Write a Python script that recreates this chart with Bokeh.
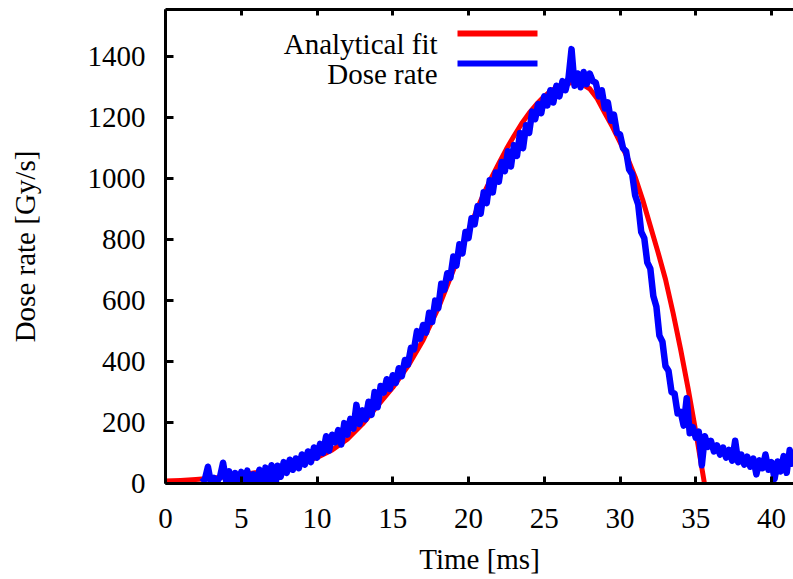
import numpy as np
from bokeh.plotting import figure
from bokeh.models import (Range1d, LinearAxis, FixedTicker, Label, BoxAnnotation,
                          CustomLabelingPolicy)
from bokeh.embed import file_html
from bokeh.resources import INLINE

# ---- data ----
x_ticks = [0, 5, 10, 15, 20, 25, 30, 35, 40]
y_ticks = [0, 200, 400, 600, 800, 1000, 1200, 1400]

fit_time = [0, 1, 2, 3, 4, 5, 6, 7, 8, 9, 10, 11, 12, 13, 14, 15, 16, 17, 18, 19,
            19.5, 20, 20.5, 21, 21.5, 22, 22.5, 23, 23.5, 24, 24.5, 25, 25.5, 26, 26.5,
            27, 27.5, 28, 28.5, 29, 29.5, 30, 30.5, 31, 31.5, 32, 32.5, 33, 33.5, 34,
            34.5, 35, 35.5, 36]
fit_dose = [8, 10, 13, 17, 22, 28, 36, 46, 58, 70, 85, 110, 145, 195, 255, 315, 385, 470, 575, 700,
            765, 830, 892, 950, 1002, 1050, 1097, 1140, 1180, 1215, 1245, 1270, 1290, 1303, 1312,
            1316, 1310, 1295, 1262, 1215, 1170, 1120, 1067, 1005, 930, 845, 760, 670, 560, 440,
            310, 170, 22, -130]

dose_t0 = 2.4
dose_dt = 0.2
dose_rate = [
    4, 14, 55, 2, 18, 6, 22, 68, 8, 40,
    5, 34, -8, 38, 10, 42, -25, 30, 4, 45,
    -15, 52, 10, 60, -35, 58, 22, 70, 35, 78,
    45, 82, 50, 95, 62, 105, 70, 118, 85, 130,
    100, 155, 108, 160, 135, 175, 128, 198, 160, 212,
    180, 258, 195, 240, 210, 268, 225, 300, 250, 320,
    298, 342, 310, 355, 330, 378, 352, 405, 390, 445,
    440, 500, 475, 520, 495, 560, 530, 600, 575, 655,
    635, 690, 675, 745, 715, 785, 755, 825, 805, 870,
    850, 910, 885, 955, 920, 995, 955, 1020, 990, 1055,
    1025, 1090, 1040, 1110, 1075, 1150, 1100, 1175, 1150, 1220,
    1195, 1245, 1215, 1270, 1240, 1290, 1250, 1305, 1270, 1320,
    1290, 1330, 1425, 1305, 1345, 1300, 1350, 1310, 1345, 1320,
    1315, 1270, 1290, 1230, 1250, 1190, 1210, 1150, 1145, 1100,
    1090, 1030, 1015, 945, 915, 825, 805, 725, 705, 615,
    580, 485, 465, 385, 370, 300, 295, 230, 235, 190,
    280, 165, 185, 150, 170, 60, 155, 120, 140, 105,
    125, 95, 118, 85, 110, 75, 140, 70, 95, 62,
    88, 55, 82, 30, 76, 50, 95, 45, 70, 15,
    72, 40, 90, 35, 110, 55,
]
dose_time = [round(dose_t0 + dose_dt * i, 2) for i in range(len(dose_rate))]

series_names = ["Analytical fit", "Dose rate"]
series_colors = ["#ff0000", "#0000ff"]

FONT = "Liberation Serif"
FS = "29px"

p = figure(width=793, height=579,
           x_range=Range1d(0, 41.45), y_range=Range1d(0, 1555),
           output_backend="svg", toolbar_location=None,
           min_border_left=165, min_border_right=0, min_border_top=9, min_border_bottom=96)
p.outline_line_color = None
p.grid.visible = False
p.background_fill_color = "white"
p.border_fill_color = "white"

p.line(fit_time, fit_dose, line_color=series_colors[0], line_width=5, line_join="round")
p.line(dose_time, dose_rate, line_color=series_colors[1], line_width=6.5, line_join="round")


def style_axis(ax, ticks, tick_len):
    ax.ticker = FixedTicker(ticks=ticks)
    ax.axis_line_width = 3
    ax.axis_line_color = "black"
    ax.major_tick_line_width = 3
    ax.major_tick_in = tick_len
    ax.major_tick_out = 0
    ax.minor_tick_line_color = None
    ax.major_label_text_font = FONT
    ax.major_label_text_font_size = FS
    ax.major_label_text_color = "black"
    ax.axis_label_text_font = FONT
    ax.axis_label_text_font_size = FS
    ax.axis_label_text_font_style = "normal"
    ax.axis_label_text_color = "black"


p.xaxis.axis_label = "Time [ms]"
style_axis(p.xaxis[0], x_ticks, 7)
p.xaxis.major_label_standoff = 25
p.xaxis.axis_label_standoff = 12

p.yaxis.axis_label = "Dose rate [Gy/s]"
style_axis(p.yaxis[0], y_ticks, 8)
p.yaxis.major_label_standoff = 20
p.yaxis.axis_label_standoff = 44

# top border with inward ticks, no labels
top = LinearAxis()
style_axis(top, x_ticks, 6)
top.major_label_text_font_size = "0px"
top.major_label_standoff = 0
top.major_label_policy = CustomLabelingPolicy(code="return false")
p.add_layout(top, "above")

# legend (text right-aligned, sample line to its right), frame-relative screen units
for i, (name, col) in enumerate(zip(series_names, series_colors)):
    yb = 440 - 30 * i
    p.add_layout(Label(x=272, y=yb, x_units="screen", y_units="screen", text=name,
                       text_align="right", text_baseline="alphabetic",
                       text_font=FONT, text_font_size=FS, text_color="black"))
    yc = 450 - 30 * i
    p.add_layout(BoxAnnotation(left=292, right=372, bottom=yc - 3, top=yc + 3,
                               left_units="screen", right_units="screen",
                               bottom_units="screen", top_units="screen",
                               fill_color=col, fill_alpha=1, line_color=None))

open("out.html", "w").write(file_html(p, INLINE))
